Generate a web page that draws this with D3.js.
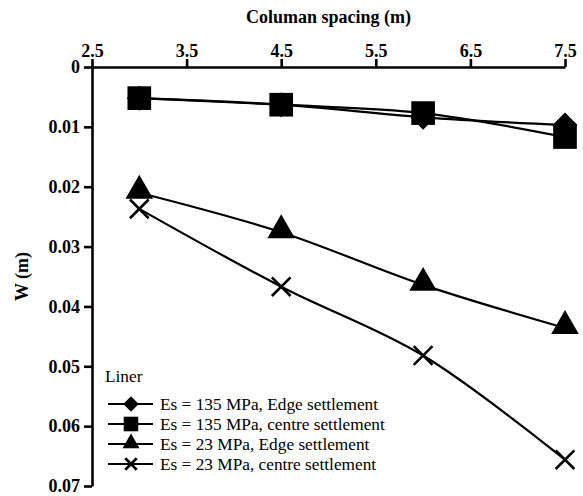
<!DOCTYPE html>
<html>
<head>
<meta charset="utf-8">
<script src="https://cdn.jsdelivr.net/npm/d3@7"></script>
<style>
  html, body { margin: 0; padding: 0; background: #fff; }
  svg { display: block; }
</style>
</head>
<body>
<svg id="chart" width="583" height="496"></svg>
<script>
// Column spacing (m) at which settlement was computed
const spacing = [3, 4.5, 6, 7.5];

// Settlement W (m) for each case
const es135Edge   = [0.0052, 0.0063, 0.0084, 0.0097];
const es135Centre = [0.0052, 0.0063, 0.0077, 0.0117];
const es23Edge    = [0.0210, 0.0276, 0.0364, 0.0436];
const es23Centre  = [0.0237, 0.0367, 0.0482, 0.0656];

const seriesNames = [
  "Es = 135 MPa, Edge settlement",
  "Es = 135 MPa, centre settlement",
  "Es = 23 MPa, Edge settlement",
  "Es = 23 MPa, centre settlement"
];
const seriesShapes = ["diamond", "square", "triangle", "cross"];

const xTicks = [2.5, 3.5, 4.5, 5.5, 6.5, 7.5];
const yTicks = [0, 0.01, 0.02, 0.03, 0.04, 0.05, 0.06, 0.07];

const series = [es135Edge, es135Centre, es23Edge, es23Centre].map((vals, i) => ({
  name: seriesNames[i],
  shape: seriesShapes[i],
  points: spacing.map((s, j) => ({ x: s, y: vals[j] }))
}));

const FONT = "Liberation Serif";
const svg = d3.select("#chart");
const plotLeft = 92, plotRight = 565, plotTop = 67, plotBottom = 486;

const x = d3.scaleLinear().domain([2.5, 7.5]).range([plotLeft, plotRight]);
const y = d3.scaleLinear().domain([0, 0.07]).range([plotTop, plotBottom]);

// Axes: spacing along the top, settlement increasing downward
const xAxis = svg.append("g")
  .attr("transform", `translate(0,${plotTop})`)
  .call(d3.axisTop(x).tickValues(xTicks).tickFormat(d3.format(".1f")).tickSizeInner(8).tickSizeOuter(0).tickPadding(2));

const yAxis = svg.append("g")
  .attr("transform", `translate(${plotLeft},0)`)
  .call(d3.axisLeft(y).tickValues(yTicks)
    .tickFormat(d => d === 0 ? "0" : d3.format(".2f")(d))
    .tickSizeInner(8).tickSizeOuter(0).tickPadding(4));

[xAxis, yAxis].forEach(g => {
  g.attr("font-family", FONT).attr("font-size", 18).attr("font-weight", "bold");
  g.select(".domain").attr("stroke", "#000").attr("stroke-width", 2.6);
  g.selectAll(".tick line").attr("stroke", "#000").attr("stroke-width", 2.6);
  g.selectAll(".tick text").attr("fill", "#000");
});

svg.append("text")
  .attr("x", (plotLeft + plotRight) / 2)
  .attr("y", 23)
  .attr("text-anchor", "middle")
  .attr("font-family", FONT)
  .attr("font-size", 18)
  .attr("font-weight", "bold")
  .text("Columan spacing (m)");

svg.append("text")
  .attr("transform", `translate(28,${(plotTop + plotBottom) / 2}) rotate(-90)`)
  .attr("text-anchor", "middle")
  .attr("font-family", FONT)
  .attr("font-size", 18)
  .attr("font-weight", "bold")
  .text("W (m)");

// Marker shapes: square-proportioned diamond, square, triangle and X cross
const symbolFor = {
  square: d3.symbolSquare,
  triangle: d3.symbolTriangle,
  cross: d3.symbolX
};
function drawMarker(g, shape, cx, cy, scale) {
  let d;
  if (shape === "diamond") {
    const r = 12.5 * Math.sqrt(scale);
    d = `M0,${-r}L${r},0L0,${r}L${-r},0Z`;
  } else {
    const sizes = { square: 560, triangle: 330, cross: 230 };
    d = d3.symbol().type(symbolFor[shape]).size(sizes[shape] * scale)();
  }
  const p = g.append("path")
    .attr("d", d)
    .attr("transform", `translate(${cx},${cy})` + (shape === "triangle" ? ` translate(0,${-2 * scale})` : ""));
  if (shape === "cross") {
    p.attr("fill", "none").attr("stroke", "#000").attr("stroke-width", 2.6);
  } else {
    p.attr("fill", "#000");
  }
}

const line = d3.line()
  .x(d => x(d.x))
  .y(d => y(d.y))
  .curve(d3.curveCatmullRom.alpha(0.5));

const plot = svg.append("g");
series.forEach(s => {
  plot.append("path")
    .datum(s.points)
    .attr("d", line)
    .attr("fill", "none")
    .attr("stroke", "#000")
    .attr("stroke-width", 2.2);
});
series.forEach(s => {
  s.points.forEach(p => drawMarker(plot, s.shape, x(p.x), y(p.y), 1));
});

// Legend
const legend = svg.append("g")
  .attr("font-family", FONT)
  .attr("font-size", 17.3);
legend.append("text")
  .attr("x", 105)
  .attr("y", 382)
  .text("Liner");

series.forEach((s, i) => {
  const ly = 404 + i * 20;
  legend.append("line")
    .attr("x1", 108).attr("x2", 153)
    .attr("y1", ly).attr("y2", ly)
    .attr("stroke", "#000").attr("stroke-width", 2.2);
  drawMarker(legend, s.shape, 131, ly, 0.38);
  legend.append("text")
    .attr("x", 160)
    .attr("y", ly + 6)
    .text(s.name);
});
</script>
</body>
</html>
